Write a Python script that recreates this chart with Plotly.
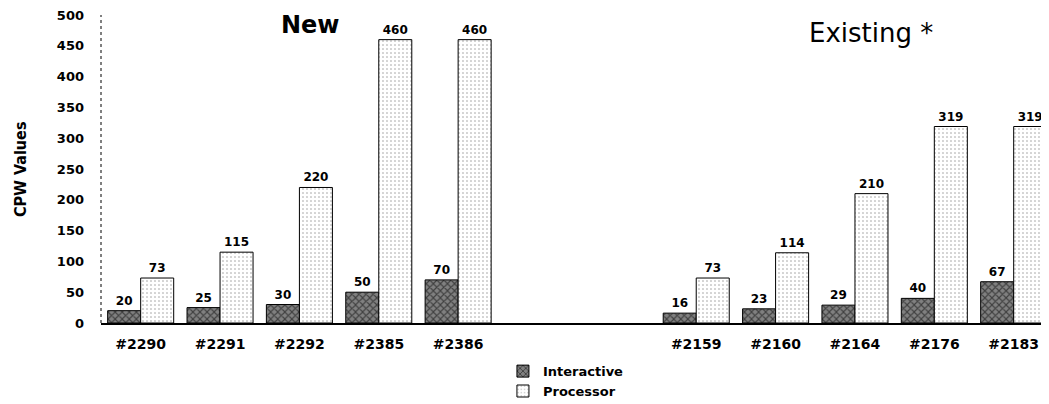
import plotly.graph_objects as go

# ---- data ----
new_labels = ["#2290", "#2291", "#2292", "#2385", "#2386"]
new_interactive = [20, 25, 30, 50, 70]
new_processor = [73, 115, 220, 460, 460]

existing_labels = ["#2159", "#2160", "#2164", "#2176", "#2183"]
existing_interactive = [16, 23, 29, 40, 67]
existing_processor = [73, 114, 210, 319, 319]

y_ticks = [0, 50, 100, 150, 200, 250, 300, 350, 400, 450, 500]

# ---- layout helpers ----
GAP_SLOTS = 2
labels = new_labels + existing_labels
positions = list(range(len(new_labels))) + [
    len(new_labels) + GAP_SLOTS + i for i in range(len(existing_labels))
]
interactive = new_interactive + existing_interactive
processor = new_processor + existing_processor

FONT = "DejaVu Sans"

fig = go.Figure()
fig.add_trace(go.Bar(
    x=positions, y=interactive, name="Interactive",
    text=[str(v) for v in interactive], textposition="outside",
    textfont=dict(family=FONT, size=12, color="black", weight="bold"),
    marker=dict(color="#8c8c8c", line=dict(color="black", width=1),
                pattern=dict(shape="x", fgcolor="black", bgcolor="#808080",
                             size=5, solidity=0.4, fillmode="overlay")),
    cliponaxis=False,
))
fig.add_trace(go.Bar(
    x=positions, y=processor, name="Processor",
    text=[str(v) for v in processor], textposition="outside",
    textfont=dict(family=FONT, size=12, color="black", weight="bold"),
    marker=dict(color="white", line=dict(color="black", width=1),
                pattern=dict(shape=".", fgcolor="#333333", bgcolor="white",
                             size=4, solidity=0.12, fillmode="overlay")),
    cliponaxis=False,
))

fig.update_layout(
    width=1041, height=396,
    margin=dict(l=93, r=0, t=7, b=81, autoexpand=False),
    paper_bgcolor="white", plot_bgcolor="white",
    barmode="group", bargap=0.168, bargroupgap=0,
    font=dict(family=FONT, color="black"),
    showlegend=True,
    legend=dict(
        x=0.424, xanchor="left", y=-0.27, yanchor="bottom",
        orientation="v", bgcolor="rgba(0,0,0,0)",
        font=dict(family=FONT, size=13, color="black", weight="bold"),
        tracegroupgap=0,
    ),
    xaxis=dict(
        range=[-0.5, 11.445], automargin=False,
        tickmode="array", tickvals=positions, ticktext=labels,
        tickfont=dict(family=FONT, size=14, color="black", weight="bold"),
        showline=True, linecolor="black", linewidth=2,
        showgrid=False, zeroline=False, ticks="", ticklabelstandoff=7,
        ticklabeloverflow="allow",
    ),
    yaxis=dict(
        range=[0, 500], automargin=False,
        tickmode="array", tickvals=y_ticks,
        tickfont=dict(family=FONT, size=13, color="black", weight="bold"),
        showline=False, showgrid=False, zeroline=False, ticks="",
        ticklabelstandoff=16, ticklabeloverflow="allow",
    ),
    shapes=[dict(type="line", xref="paper", x0=0, x1=0, yref="y", y0=0, y1=500,
                 line=dict(color="black", width=1, dash="dot"))],
    annotations=[
        dict(text="CPW Values", xref="paper", yref="paper", x=-0.0854, y=0.5,
             textangle=-90, showarrow=False, xanchor="center", yanchor="middle",
             font=dict(family="DejaVu Sans Condensed, Liberation Sans", size=16,
                       color="black", weight="bold")),
        dict(text="New", xref="paper", yref="paper", x=0.2215, y=0.9675,
             showarrow=False, xanchor="center", yanchor="middle",
             font=dict(family=FONT, size=24, color="black", weight="bold")),
        dict(text="Existing *", xref="paper", yref="paper", x=0.812, y=0.94,
             showarrow=False, xanchor="center", yanchor="middle",
             font=dict(family=FONT, size=26, color="black")),
    ],
)

fig.write_html("out.html")
